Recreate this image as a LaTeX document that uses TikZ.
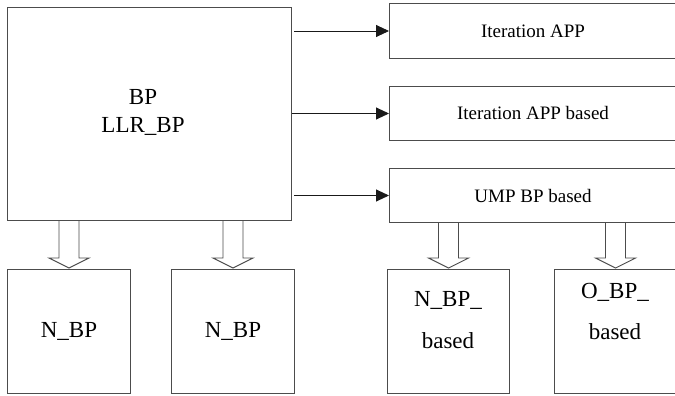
\documentclass[tikz,border=0pt]{standalone}
\usepackage{fontspec}
\setmainfont{Liberation Serif}
\usetikzlibrary{arrows.meta,calc}
\begin{document}
\begin{tikzpicture}[x=1pt,y=-1pt,
  box/.style={draw=black!70, line width=1pt, inner sep=0pt, anchor=north west},
  rbox/.style={box, minimum width=287pt, font=\fontsize{19}{23}\selectfont},
  sbox/.style={box, minimum width=123pt, minimum height=124pt},
  big/.style={font=\fontsize{23}{28}\selectfont, align=center, inner sep=0pt},
  conn/.style={draw=black!90, line width=0.9pt, -{Triangle[length=13pt,width=12pt]}},
  hollow/.style={draw=black!70, line width=0.9pt, fill=white}]
\useasboundingbox (0,0) rectangle (675,396);
% boxes
\node[box, minimum width=284pt, minimum height=213pt] (bp) at (7,7) {};
\node[big] (bpt) at (143,112) {BP\\LLR\_BP};
\node[rbox, minimum height=55pt] (r1) at (389,3) {Iteration APP};
\node[rbox, minimum height=54pt] (r2) at (389,86) {Iteration APP based};
\node[rbox, minimum height=54pt] (r3) at (389,168) {UMP BP based};
\node[sbox] (n1) at (7,269) {};
\node[sbox] (n2) at (171,269) {};
\node[sbox, minimum width=122pt] (n3) at (387,269) {};
\node[sbox, minimum width=122pt] (n4) at (554,269) {};
\node[big] (n1t) at (n1.center) {N\_BP};
\node[big] (n2t) at (n2.center) {N\_BP};
\node[big, font=\fontsize{23}{42}\selectfont] (n3t) at (448,320) {N\_BP\_\\based};
\node[big, font=\fontsize{23}{41}\selectfont] (n4t) at (615,311) {O\_BP\_\\based};
% arrows
\draw[conn, shorten <=2pt] (bp.east |- r1.west) -- (r1.west);
\draw[conn] (bp.east |- r2.west) -- (r2.west);
\draw[conn, shorten <=2pt] (bp.east |- r3.west) -- (r3.west);
% hollow arrows
\foreach \s/\t in {bp/n1, bp/n2, r3/n3, r3/n4}{
  \draw[hollow] let \p1=(\t.north |- \s.south), \p2=(\t.north) in
    (\x1-10pt,\y1) -- (\x1-10pt,\y2+11pt) -- (\x1-20pt,\y2+11pt) -- (\x1,\y2+1pt)
    -- (\x1+20pt,\y2+11pt) -- (\x1+10pt,\y2+11pt) -- (\x1+10pt,\y1);
}
\end{tikzpicture}
\end{document}
